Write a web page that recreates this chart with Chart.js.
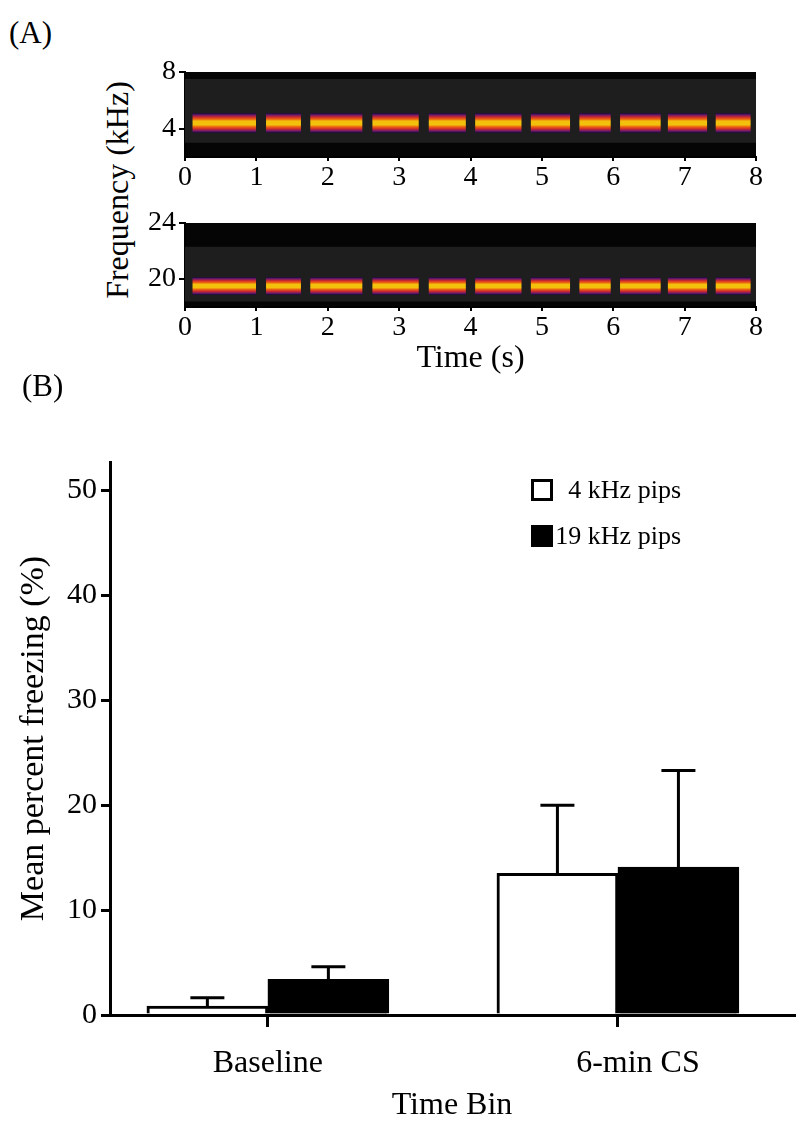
<!DOCTYPE html>
<html>
<head>
<meta charset="utf-8">
<title>Freezing to 4 kHz and 19 kHz pips</title>
<script src="https://cdn.jsdelivr.net/npm/chart.js@4.4.1/dist/chart.umd.min.js"></script>
<style>
  html, body { margin: 0; padding: 0; background: #fff; }
  body { width: 800px; height: 1131px; position: relative; overflow: hidden;
         font-family: 'Liberation Serif', 'Times New Roman', serif; color: #000; }
  .panel { position: absolute; left: 0; width: 800px; }
  .label { position: absolute; font-size: 31px; line-height: 1; white-space: nowrap; }
  #freqLabel { left: 117px; top: 190px; font-size: 32px;
               transform: translate(-50%, -50%) rotate(-90deg); }
</style>
</head>
<body>
<div class="label" style="left:9px;top:17px">(A)</div>
<div class="label" id="freqLabel">Frequency (kHz)</div>
<div class="panel" style="top:50px;height:140px"><canvas id="specLow" width="800" height="140"></canvas></div>
<div class="panel" style="top:200px;height:180px"><canvas id="specHigh" width="800" height="180"></canvas></div>
<div class="label" style="left:22px;top:370px">(B)</div>
<div class="panel" style="top:440px;height:691px"><canvas id="freezing" width="800" height="691"></canvas></div>

<script>
const SERIF = "'Liberation Serif', 'Times New Roman', serif";

// ── (A) spectrograms: pip on/off times in seconds (same train for both tones) ──
const timeTicks  = [0, 1, 2, 3, 4, 5, 6, 7, 8];
const pipOnsets  = [0.11, 1.14, 1.76, 2.63, 3.42, 4.07, 4.85, 5.53, 6.10, 6.77, 7.44];
const pipOffsets = [0.99, 1.62, 2.48, 3.27, 3.93, 4.71, 5.39, 5.96, 6.66, 7.31, 7.92];

const lowRange = [2, 8];
const lowTicks = [4, 8];
const lowBand  = [3.0, 7.5];   // grey analysed band, kHz
const lowPip   = 4.4;

const highRange = [18, 24];
const highTicks = [20, 24];
const highBand  = [18.4, 22.3];
const highPip   = 19.5;

// ── (B) mean percent freezing ──
const timeBins    = ['Baseline', '6-min CS'];
const binPos      = [0, 1];
const freezeTicks = [0, 10, 20, 30, 40, 50];
const mean4k  = [0.85, 13.5];
const sem4k   = [0.8, 6.5];
const mean19k = [3.4, 14.1];
const sem19k  = [1.2, 9.2];

// ── plugins ───────────────────────────────────────────────────────────────────

const blackArea = {
  id: 'blackArea',
  beforeDraw(chart) {
    const { ctx, chartArea: a } = chart;
    if (!a) return;
    ctx.save();
    ctx.fillStyle = '#050505';
    ctx.fillRect(a.left, a.top, a.width, a.height);
    ctx.restore();
  },
};

const errorBars = {
  id: 'errorBars',
  afterDatasetsDraw(chart, args, opts) {
    const { ctx } = chart;
    const y = chart.scales.y;
    ctx.save();
    ctx.strokeStyle = '#000';
    ctx.lineWidth = opts.lineWidth;
    chart.data.datasets.forEach((ds, di) => {
      if (!ds.errors) return;
      chart.getDatasetMeta(di).data.forEach((bar, i) => {
        const top = y.getPixelForValue(ds.data[i].y + ds.errors[i]);
        ctx.beginPath();
        ctx.moveTo(bar.x, bar.y);
        ctx.lineTo(bar.x, top);
        ctx.moveTo(bar.x - opts.capWidth / 2, top);
        ctx.lineTo(bar.x + opts.capWidth / 2, top);
        ctx.stroke();
      });
    });
    ctx.restore();
  },
};

// small boxed legend inside the plot, labels right-aligned
const boxLegend = {
  id: 'boxLegend',
  afterDraw(chart, args, opts) {
    const { ctx } = chart;
    ctx.save();
    ctx.font = `${opts.fontSize}px ${SERIF}`;
    ctx.textAlign = 'right';
    ctx.textBaseline = 'middle';
    chart.data.datasets.forEach((ds, i) => {
      const top = opts.top + i * opts.rowGap;
      ctx.fillStyle = ds.backgroundColor;
      ctx.fillRect(opts.left, top, opts.box, opts.box);
      ctx.lineWidth = 3;
      ctx.strokeStyle = ds.borderColor;
      ctx.strokeRect(opts.left + 1.5, top + 1.5, opts.box - 3, opts.box - 3);
      ctx.fillStyle = '#000';
      ctx.fillText(ds.label, opts.textRight, top + opts.box / 2 + 1);
    });
    ctx.restore();
  },
};

// ── spectrogram panels ────────────────────────────────────────────────────────

function pipGradient(c, pipKHz, thickness) {
  const chart = c.chart;
  if (!chart.chartArea) return '#f3c20c';
  const yc = chart.scales.y.getPixelForValue(pipKHz);
  const h = thickness / 2;
  const g = chart.ctx.createLinearGradient(0, yc - h, 0, yc + h);
  g.addColorStop(0.00, '#2a0a48');
  g.addColorStop(0.08, '#6e1a6c');
  g.addColorStop(0.18, '#c8282e');
  g.addColorStop(0.30, '#ee6312');
  g.addColorStop(0.40, '#f3c10c');
  g.addColorStop(0.60, '#f3c10c');
  g.addColorStop(0.70, '#ee6312');
  g.addColorStop(0.82, '#c8282e');
  g.addColorStop(0.92, '#6e1a6c');
  g.addColorStop(1.00, '#2a0a48');
  return g;
}

function renderSpectrogram(canvasId, range, ticks, band, pipKHz, pipPx, padTop, xHeight, xTitle) {
  const tickFont = { family: SERIF, size: 28 };
  new Chart(document.getElementById(canvasId), {
    type: 'bar',
    data: {
      datasets: [
        {
          type: 'bar',
          indexAxis: 'y',
          data: pipOnsets.map((t, i) => ({ y: pipKHz, x: [t, pipOffsets[i]] })),
          backgroundColor: (c) => pipGradient(c, pipKHz, pipPx),
          borderWidth: 0,
          barThickness: pipPx,
          order: 1,
        },
        {
          type: 'line',
          data: [{ x: timeTicks[0], y: band[1] }, { x: timeTicks[timeTicks.length - 1], y: band[1] }],
          fill: { value: band[0] },
          backgroundColor: '#1e1e1e',
          borderWidth: 0,
          pointRadius: 0,
          order: 2,
        },
      ],
    },
    options: {
      responsive: false,
      animation: false,
      events: [],
      layout: { padding: { top: padTop, right: 44, left: 0, bottom: 0 } },
      plugins: { legend: { display: false }, tooltip: { enabled: false } },
      scales: {
        x: {
          type: 'linear',
          min: timeTicks[0],
          max: timeTicks[timeTicks.length - 1],
          offset: false,
          beginAtZero: false,
          afterBuildTicks: (s) => { s.ticks = timeTicks.map(v => ({ value: v })); },
          afterFit: (s) => { s.height = xHeight; },
          grid: { offset: false, drawOnChartArea: false, drawTicks: true, tickLength: 4, color: '#000', lineWidth: 2 },
          border: { display: true, color: '#000', width: 2 },
          ticks: { font: tickFont, color: '#000', padding: 0, maxRotation: 0, autoSkip: false },
          title: xTitle
            ? { display: true, text: xTitle, color: '#000', font: { family: SERIF, size: 32 }, padding: { top: 0, bottom: 2 } }
            : { display: false },
        },
        y: {
          type: 'linear',
          min: range[0],
          max: range[1],
          offset: false,
          beginAtZero: false,
          afterBuildTicks: (s) => { s.ticks = ticks.map(v => ({ value: v })); },
          afterFit: (s) => { s.width = 185; },
          grid: { offset: false, drawOnChartArea: false, drawTicks: true, tickLength: 6, color: '#000', lineWidth: 2 },
          border: { display: true, color: '#000', width: 2 },
          ticks: { font: tickFont, color: '#000', padding: 3 },
        },
      },
    },
    plugins: [blackArea],
  });
}

renderSpectrogram('specLow', lowRange, lowTicks, lowBand, lowPip, 19, 22, 33, null);
renderSpectrogram('specHigh', highRange, highTicks, highBand, highPip, 17, 23, 73, 'Time (s)');

// ── (B) bar chart ─────────────────────────────────────────────────────────────

new Chart(document.getElementById('freezing'), {
  type: 'bar',
  data: {
    datasets: [
      {
        label: '4 kHz pips',
        data: binPos.map((x, i) => ({ x, y: mean4k[i] })),
        errors: sem4k,
        backgroundColor: '#ffffff',
        borderColor: '#000000',
        borderWidth: 3,
        barThickness: 121,
      },
      {
        label: '19 kHz pips',
        data: binPos.map((x, i) => ({ x, y: mean19k[i] })),
        errors: sem19k,
        backgroundColor: '#000000',
        borderColor: '#000000',
        borderWidth: 3,
        barThickness: 121,
      },
    ],
  },
  options: {
    responsive: false,
    animation: false,
    events: [],
    layout: { padding: { top: 12, right: 6, left: 0, bottom: 0 } },
    plugins: {
      legend: { display: false },
      tooltip: { enabled: false },
      errorBars: { lineWidth: 3, capWidth: 34 },
      boxLegend: { left: 531, top: 39, box: 22, rowGap: 46, textRight: 681, fontSize: 26 },
    },
    scales: {
      x: {
        type: 'linear',
        min: -0.451,
        max: 1.503,
        offset: false,
        afterBuildTicks: (s) => { s.ticks = binPos.map(v => ({ value: v })); },
        afterFit: (s) => { s.height = 116; },
        grid: { offset: false, drawOnChartArea: false, drawTicks: true, tickLength: 12, color: '#000', lineWidth: 3 },
        border: { display: true, color: '#000', width: 3 },
        ticks: {
          font: { family: SERIF, size: 32 }, color: '#000', padding: 17, maxRotation: 0, autoSkip: false,
          // the second label sits a little right of its tick in the original
          callback: (v, i) => (i === 1 ? '\u00a0'.repeat(5) : '') + timeBins[i],
        },
        title: { display: true, text: 'Time Bin', color: '#000', font: { family: SERIF, size: 32 }, padding: { top: 0, bottom: 6 } },
      },
      y: {
        type: 'linear',
        min: 0,
        max: 52.7,
        afterBuildTicks: (s) => { s.ticks = freezeTicks.map(v => ({ value: v })); },
        afterFit: (s) => { s.width = 110; },
        grid: { drawOnChartArea: false, drawTicks: true, tickLength: 9, color: '#000', lineWidth: 3 },
        border: { display: true, color: '#000', width: 3 },
        ticks: { font: { family: SERIF, size: 30 }, color: '#000', padding: 4 },
        title: { display: true, text: 'Mean percent freezing (%)', color: '#000', font: { family: SERIF, size: 34 }, padding: { top: 14, bottom: 0 } },
      },
    },
  },
  plugins: [errorBars, boxLegend],
});
</script>
</body>
</html>
